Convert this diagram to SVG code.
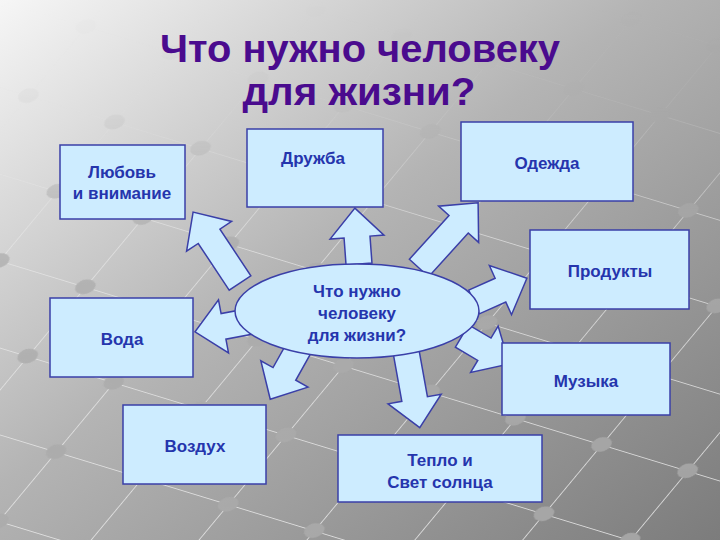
<svg xmlns="http://www.w3.org/2000/svg" width="720" height="540" viewBox="0 0 720 540">
<defs>
<linearGradient id="bg" x1="0" y1="0" x2="1" y2="1">
<stop offset="0" stop-color="#f6f6f6"/>
<stop offset="0.45" stop-color="#b4b4b4"/>
<stop offset="1" stop-color="#7c7c7c"/>
</linearGradient>
<pattern id="grid" width="90" height="90" patternUnits="userSpaceOnUse" patternTransform="matrix(0.956 0.292 -0.64 0.77 0 0)">
<path d="M0,0 H90 M0,0 V90" stroke="#e6e6e6" stroke-width="2" fill="none"/>
<circle cx="0" cy="0" r="9" fill="#ababab"/>
<circle cx="90" cy="0" r="9" fill="#ababab"/>
<circle cx="0" cy="90" r="9" fill="#ababab"/>
<circle cx="90" cy="90" r="9" fill="#ababab"/>
</pattern>
<linearGradient id="fade" x1="0" y1="0" x2="0" y2="1">
<stop offset="0" stop-color="#fff" stop-opacity="0"/>
<stop offset="0.2" stop-color="#fff" stop-opacity="0.1"/>
<stop offset="0.45" stop-color="#fff" stop-opacity="0.7"/>
<stop offset="1" stop-color="#fff" stop-opacity="0.85"/>
</linearGradient>
<mask id="gm"><rect width="720" height="540" fill="url(#fade)"/></mask>
<style>
.box{fill:#cdecff;stroke:#3a3fa8;stroke-width:1.5}
.arr{fill:#cdecff;stroke:#3a3fa8;stroke-width:1.5;stroke-linejoin:miter}
.t{font-family:"Liberation Sans",Arial,sans-serif;font-weight:bold;font-size:17px;fill:#2535ad;text-anchor:middle}
.title{font-family:"Liberation Sans",Arial,sans-serif;font-weight:bold;font-size:38px;fill:#4a0b8e;text-anchor:middle}
</style>
</defs>
<rect width="720" height="540" fill="url(#bg)"/>
<rect width="720" height="540" fill="url(#grid)" mask="url(#gm)"/>
<g id="title">
<text class="title" x="360" y="62" textLength="400" lengthAdjust="spacingAndGlyphs">Что нужно человеку</text>
<text class="title" x="359" y="105" textLength="233" lengthAdjust="spacingAndGlyphs">для жизни?</text>
</g>
<g id="connectors">
<path class="arr" transform="translate(240,283) rotate(-123.5)" d="M0,-13 H56 V-27 L85,0 L56,27 V13 H0 Z"/>
<path class="arr" transform="translate(359,264) rotate(-94.2)" d="M0,-13 H27 V-27 L56,0 L27,27 V13 H0 Z"/>
<path class="arr" transform="translate(419,268) rotate(-47.8)" d="M0,-13 H59 V-27 L88,0 L59,27 V13 H0 Z"/>
<path class="arr" transform="translate(474,302) rotate(-24.2)" d="M0,-13 H29 V-27 L58,0 L29,27 V13 H0 Z"/>
<path class="arr" transform="translate(462,336) rotate(30.6)" d="M0,-13 H26 V-27 L55,0 L26,27 V13 H0 Z"/>
<path class="arr" transform="translate(404,340) rotate(79.8)" d="M0,-13 H60 V-27 L89,0 L60,27 V13 H0 Z"/>
<path class="arr" transform="translate(300,346) rotate(119.2)" d="M0,-13 H32 V-27 L61,0 L32,27 V13 H0 Z"/>
<path class="arr" transform="translate(252,321) rotate(169.3)" d="M0,-13 H29 V-27 L58,0 L29,27 V13 H0 Z"/>
</g>
<g id="center">
<ellipse cx="357" cy="311" rx="122" ry="47" class="box"/>
<text class="t" x="357" y="297">Что нужно</text>
<text class="t" x="357" y="319">человеку</text>
<text class="t" x="357" y="341">для жизни?</text>
</g>
<g id="lyubov">
<rect class="box" x="60" y="145" width="125" height="74"/>
<text class="t" x="122" y="178">Любовь</text>
<text class="t" x="122" y="199">и внимание</text>
</g>
<g id="druzhba">
<rect class="box" x="247" y="129" width="136" height="78"/>
<text class="t" x="313" y="164">Дружба</text>
</g>
<g id="odezhda">
<rect class="box" x="461" y="122" width="172" height="79"/>
<text class="t" x="547" y="169">Одежда</text>
</g>
<g id="produkty">
<rect class="box" x="530" y="230" width="159" height="79"/>
<text class="t" x="610" y="277">Продукты</text>
</g>
<g id="voda">
<rect class="box" x="50" y="298" width="143" height="79"/>
<text class="t" x="122" y="345">Вода</text>
</g>
<g id="muzyka">
<rect class="box" x="502" y="343" width="168" height="72"/>
<text class="t" x="586" y="387">Музыка</text>
</g>
<g id="vozdukh">
<rect class="box" x="123" y="405" width="143" height="79"/>
<text class="t" x="195" y="452">Воздух</text>
</g>
<g id="teplo">
<rect class="box" x="338" y="435" width="204" height="67"/>
<text class="t" x="440" y="466">Тепло и</text>
<text class="t" x="440" y="488">Свет солнца</text>
</g>
</svg>
